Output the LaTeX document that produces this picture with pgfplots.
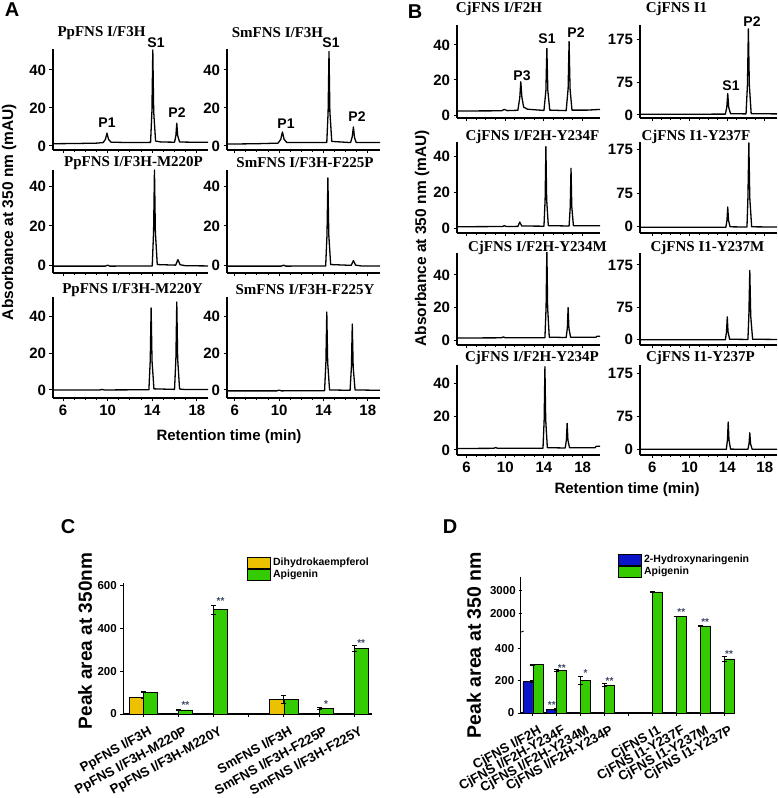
\documentclass[border=0pt]{standalone}
\usepackage{pgfplots}
\pgfplotsset{compat=1.18}
\usepackage{fontspec}
\setmainfont{Liberation Sans}
\newfontfamily\serifb{Liberation Serif}
\newcommand{\fs}[1]{\fontsize{#1}{#1}\selectfont}
\definecolor{cyellow}{RGB}{236,194,0}
\definecolor{cgreen}{RGB}{52,204,0}
\definecolor{cblue}{RGB}{10,20,200}
\definecolor{cast}{RGB}{60,70,100}
\pgfplotsset{
 chrom/.style={scale only axis, anchor=south west, axis lines=left,
   axis line style={-, line width=1.4pt},
   tick align=outside, major tick length=3.5pt, minor tick length=2pt,
   tick style={black, line width=1pt},
   xtick={6,10,14,18}, minor x tick num=3,
   tick label style={font=\fs{15}\bfseries},
   /pgf/number format/assume math mode=true,
   every axis plot post/.append style={black, line width=1.3pt, mark=none, line join=round}},
 nolab/.style={xticklabels={{},{},{},{}}},
 bars/.style={scale only axis, anchor=south west, axis lines=left,
   axis line style={-, line width=1.2pt},
   tick align=outside, major tick length=3pt, tick style={black, line width=0.9pt},
   /pgf/number format/assume math mode=true, /pgf/number format/1000 sep={},
   scaled y ticks=false,
   y tick label style={font=\fs{11.5}\bfseries},
   x tick label style={xshift=5pt, yshift=-7pt, rotate=29, anchor=north east, font=\fs{13.2}\bfseries, inner sep=1pt},
   legend image code/.code={\draw[#1, line width=0.7pt] (0pt,-5.5pt) rectangle (23pt,5.5pt);},
   legend cell align=left},
 ebar/.style={error bars/.cd, y dir=both, y explicit,
   error bar style={line width=0.8pt, black},
   error mark options={rotate=90, mark size=2.5pt, line width=0.8pt, black}},
 ast/.style={draw=none, mark=none, forget plot, nodes near coords, point meta=explicit symbolic,
   nodes near coords align={center},
   every node near coord/.append style={font=\fs{10}\bfseries, text=cast, inner sep=0pt}}
}
\begin{document}
\begin{tikzpicture}
\useasboundingbox (0,0) rectangle (778pt,798pt);
% ================= Panel A =================
\begin{axis}[chrom, nolab, at={(53pt,648pt)}, width=155pt, height=101pt, xmin=5.1, xmax=19.0, ymin=-2.1, ymax=51, ytick={0,20,40}]
\addplot coordinates {(5.1,1.2) (7,1.3) (9,1.5) (9.6,1.8) (9.8,3.5) (9.94,6.8) (10.08,3.5) (10.3,2.0) (12,1.8) (13.85,1.9) (13.97,18) (14.05,50.5) (14.13,18) (14.3,2.6) (14.8,2.1) (16.0,2.0) (16.12,5.5) (16.2,12) (16.28,5.5) (16.45,2.1) (17.5,2.0) (19,2.0)};
\end{axis}
\begin{axis}[chrom, nolab, at={(227pt,648pt)}, width=153pt, height=101pt, xmin=5.3, xmax=19.1, ymin=-2.1, ymax=51, ytick={0,20,40}]
\addplot coordinates {(5.3,1.0) (8,1.2) (9.9,1.5) (10.15,3.5) (10.3,7.4) (10.45,3.5) (10.7,1.8) (14.3,1.8) (14.42,18) (14.5,49.7) (14.58,18) (14.75,2.4) (16.45,1.8) (16.6,5) (16.7,10) (16.8,4.5) (16.95,1.8) (19.1,1.8)};
\end{axis}
\begin{axis}[chrom, nolab, at={(53pt,525pt)}, width=155pt, height=103pt, xmin=5.1, xmax=19.0, ymin=-4, ymax=48.5, ytick={0,20,40}]
\addplot coordinates {(5.1,-0.5) (9.8,-0.5) (10,0) (10.2,-0.5) (14.0,-0.4) (14.12,17) (14.2,48.5) (14.28,17) (14.45,0.3) (16.1,0) (16.3,2.8) (16.5,0.2) (17,-0.3) (19,-0.4)};
\end{axis}
\begin{axis}[chrom, nolab, at={(227pt,525pt)}, width=153pt, height=103pt, xmin=5.3, xmax=19.1, ymin=-4, ymax=48.5, ytick={0,20,40}]
\addplot coordinates {(5.3,-0.5) (10.2,-0.5) (10.4,0) (10.6,-0.5) (14.2,-0.4) (14.32,15.5) (14.4,44.5) (14.48,15.5) (14.65,0.3) (16.5,-0.1) (16.7,2.3) (16.9,0) (17.4,-0.4) (19.1,-0.4)};
\end{axis}
\begin{axis}[chrom, at={(53pt,400pt)}, width=155pt, height=101pt, xmin=5.1, xmax=19.0, ymin=-4.4, ymax=50.8, ytick={0,20,40}]
\addplot coordinates {(5.1,0) (9.3,0) (9.5,0.3) (9.7,0) (13.7,0.1) (13.82,16) (13.9,44.8) (13.98,16) (14.15,0.6) (16.0,0.3) (16.12,17) (16.2,48) (16.28,17) (16.45,0.5) (17,0.2) (19,0.2)};
\end{axis}
\begin{axis}[chrom, at={(227pt,400pt)}, width=153pt, height=101pt, xmin=5.3, xmax=19.1, ymin=-4.4, ymax=50.8, ytick={0,20,40}]
\addplot coordinates {(5.3,-0.5) (9.8,-0.5) (10,-0.1) (10.2,-0.5) (14.1,-0.4) (14.22,15) (14.3,42.6) (14.38,15) (14.55,0) (16.4,-0.2) (16.52,12.5) (16.6,36) (16.68,12.5) (16.85,0) (19.1,-0.2)};
\end{axis}
% ================= Panel B =================
\begin{axis}[chrom, nolab, at={(457pt,680pt)}, width=143pt, height=93pt, xmin=5, xmax=19.8, ymin=-1.7, ymax=51.4, ytick={0,20,40}]
\addplot coordinates {(5,2.3) (9.6,2.4) (9.9,3.2) (10.2,2.5) (11.3,2.7) (11.5,10) (11.6,19) (11.72,10) (11.9,4.5) (12.3,3.3) (14.0,2.6) (14.2,14) (14.3,38) (14.4,14) (14.6,2.8) (16.3,2.5) (16.5,15) (16.6,42) (16.7,15) (16.9,2.8) (18.5,2.8) (19.8,3.2)};
\end{axis}
\begin{axis}[chrom, nolab, at={(640pt,680pt)}, width=137pt, height=93pt, xmin=4.7, xmax=19.3, ymin=-7, ymax=209, ytick={0,75,175}]
\addplot coordinates {(4.7,1.5) (10,1.8) (13.8,2) (13.95,18) (14.05,50) (14.15,18) (14.35,3) (16.0,2.5) (16.15,70) (16.25,200) (16.35,70) (16.55,3) (19.3,2.5)};
\end{axis}
\begin{axis}[chrom, nolab, at={(457pt,565pt)}, width=143pt, height=91pt, xmin=5, xmax=19.8, ymin=-2.6, ymax=48.2, ytick={0,20,40}]
\addplot coordinates {(5,0.9) (9.7,1) (9.9,1.5) (10.1,1) (11.3,1.1) (11.5,3.5) (11.7,1.3) (14.0,1.2) (14.12,16) (14.2,45.6) (14.28,16) (14.45,1.5) (16.6,1.3) (16.72,12) (16.8,33.5) (16.88,12) (17.05,1.5) (19.8,1.4)};
\end{axis}
\begin{axis}[chrom, nolab, at={(640pt,565pt)}, width=137pt, height=91pt, xmin=4.7, xmax=19.3, ymin=-14, ymax=192, ytick={0,75,175}]
\addplot coordinates {(4.7,-1) (13.85,-1) (13.97,15) (14.05,45) (14.13,15) (14.3,0) (16.1,-0.5) (16.2,65) (16.3,190) (16.4,65) (16.6,0) (19.3,-0.5)};
\end{axis}
\begin{axis}[chrom, nolab, at={(457pt,453pt)}, width=143pt, height=92pt, xmin=5, xmax=19.8, ymin=-3, ymax=53.5, ytick={0,20,40}]
\addplot coordinates {(5,1.3) (9.6,1.4) (9.8,2) (10,1.4) (14.1,1.5) (14.22,20) (14.3,56) (14.38,20) (14.55,1.8) (16.3,1.6) (16.42,7.5) (16.5,20) (16.58,7.5) (16.75,1.8) (19.4,1.8) (19.5,2.4) (19.8,2.4)};
\end{axis}
\begin{axis}[chrom, nolab, at={(640pt,453pt)}, width=137pt, height=92pt, xmin=4.7, xmax=19.3, ymin=-13, ymax=203, ytick={0,75,175}]
\addplot coordinates {(4.7,-0.5) (13.8,-0.5) (13.92,18) (14.0,53) (14.08,18) (14.25,0.5) (16.2,0) (16.3,55) (16.4,162) (16.5,55) (16.7,0.5) (19.3,0)};
\end{axis}
\begin{axis}[chrom, at={(457pt,343pt)}, width=143pt, height=90pt, xmin=5, xmax=19.8, ymin=-3, ymax=51, ytick={0,20,40}]
\addplot coordinates {(5,0.9) (8.8,1) (9.0,1.5) (9.2,1) (13.9,1.1) (14.02,18) (14.1,50) (14.18,18) (14.35,1.4) (16.2,1.2) (16.32,6) (16.4,16) (16.48,6) (16.65,1.3) (19.3,1.4) (19.4,2.2) (19.8,2.2)};
\end{axis}
\begin{axis}[chrom, at={(640pt,343pt)}, width=137pt, height=90pt, xmin=4.7, xmax=19.3, ymin=-13, ymax=194, ytick={0,75,175}]
\addplot coordinates {(4.7,0) (13.9,0) (14.02,22) (14.1,63) (14.18,22) (14.35,0.5) (16.2,0.2) (16.32,13) (16.4,38) (16.48,13) (16.65,0.3) (19.3,0.2)};
\end{axis}
% ================= Panel C =================
\begin{axis}[bars, at={(123.3pt,84pt)}, width=248.4pt, height=131pt,
  xmin=-0.57, xmax=6.5, ymin=0, ymax=610, ytick={0,200,400,600},
  xtick={0,...,6}, xticklabels={PpFNS I/F3H, PpFNS I/F3H-M220P, PpFNS I/F3H-M220Y, , SmFNS I/F3H, SmFNS I/F3H-F225P, SmFNS I/F3H-F225Y},
  legend style={at={(0.498,1.2)}, anchor=north west, draw=none, fill=none, inner sep=0pt, outer sep=0pt, row sep=0pt, column sep=2pt, font=\fs{10.5}\bfseries, nodes={inner sep=0.4pt}}]
\addlegendimage{fill=cyellow, draw=black}
\addlegendentry{Dihydrokaempferol}
\addlegendimage{fill=cgreen, draw=black}
\addlegendentry{Apigenin}
\addplot[ybar, bar width=0.4, bar shift=-0.2, fill=cyellow, draw=black, line width=0.7pt, forget plot, ebar] coordinates {(0,76) +- (0,3) (4,68) +- (0,19)};
\addplot[ybar, bar width=0.4, bar shift=0.2, fill=cgreen, draw=black, line width=0.7pt, forget plot, ebar] coordinates {(0,102) +- (0,2) (1,19) +- (0,1) (2,485) +- (0,22) (4,68) +- (0,19) (5,26) +- (0,3) (6,306) +- (0,14)};
\addplot[ast] coordinates {(1.2,42) [**] (2.2,527) [**] (5.2,47) [*] (6.2,331) [**]};
\end{axis}
% ================= Panel D =================
\begin{axis}[bars, at={(520.7pt,85pt)}, width=214.3pt, height=82pt,
  xmin=-0.51, xmax=8.46, ymin=0, ymax=510, ytick={0,200,400},
  xtick={0,...,8}, xticklabels={CjFNS I/F2H, CjFNS I/F2H-Y234F, CjFNS I/F2H-Y234M, CjFNS I/F2H-Y234P, , CjFNS I1, CjFNS I1-Y237F, CjFNS I1-Y237M, CjFNS I1-Y237P},
  legend style={at={(0.454,1.94)}, anchor=north west, draw=none, fill=none, inner sep=0pt, outer sep=0pt, row sep=0pt, column sep=2pt, font=\fs{10.5}\bfseries, nodes={inner sep=0.4pt}}]
\addlegendimage{fill=cblue, draw=black}
\addlegendentry{2-Hydroxynaringenin}
\addlegendimage{fill=cgreen, draw=black}
\addlegendentry{Apigenin}
\addplot[ybar, bar width=0.42, bar shift=-0.21, fill=cblue, draw=black, line width=0.7pt, forget plot, ebar] coordinates {(0,194) +- (0,6) (1,23) +- (0,4)};
\addplot[ybar, bar width=0.42, bar shift=0.21, fill=cgreen, draw=black, line width=0.7pt, forget plot, ebar] coordinates {(0,300) +- (0,4) (1,264) +- (0,5) (2,204) +- (0,24) (3,175) +- (0,11) (5,2930) +- (0,25) (6,1860) +- (0,15) (7,1450) +- (0,12) (8,336) +- (0,15)};
\addplot[ast] coordinates {(0.79,48) [**] (1.21,282) [**] (2.21,246) [*] (3.21,200) [**] (8.21,365) [**]};
\draw[line width=0.8pt] (rel axis cs:0,1) ++(-3pt,-2.5pt) -- ++(6pt,2.5pt);
\draw[line width=0.8pt] (rel axis cs:0,1) ++(-3pt,0.5pt) -- ++(6pt,2.5pt);
\end{axis}
\begin{axis}[bars, at={(520.7pt,164pt)}, width=214.3pt, height=57pt,
  xmin=-0.51, xmax=8.46, ymin=1100, ymax=3580, ytick={2000,3000},
  axis x line=none, axis y line=left, y axis line style={-}, axis line style={-}]
\addplot[ybar, bar width=0.42, bar shift=0.21, fill=cgreen, draw=black, line width=0.7pt, forget plot, ebar] coordinates {(5,2930) +- (0,25) (6,1860) +- (0,15) (7,1450) +- (0,12)};
\addplot[ast] coordinates {(6.21,2043) [**] (7.21,1623) [**]};
\end{axis}
% ================= Text =================
\node[font=\fs{20}\bfseries] at (12pt,788pt) {A};
\node[font=\fs{20}\bfseries] at (415pt,786pt) {B};
\node[font=\fs{20}\bfseries] at (68pt,271pt) {C};
\node[font=\fs{20}\bfseries] at (450pt,271pt) {D};
\node[font=\fs{15.5}\bfseries, rotate=90] at (9pt,586pt) {Absorbance at 350 nm (mAU)};
\node[font=\fs{15.5}\bfseries, rotate=90] at (422pt,559.5pt) {Absorbance at 350 nm (mAU)};
\node[font=\fs{15}\bfseries] at (229pt,361pt) {Retention time (min)};
\node[font=\fs{15}\bfseries] at (627pt,308pt) {Retention time (min)};
\node[font=\fs{19}\bfseries, rotate=90] at (85pt,157pt) {Peak area at 350nm};
\node[font=\fs{19.5}\bfseries, rotate=90] at (474pt,153pt) {Peak area at 350 nm};
\begin{scope}[every node/.style={font=\serifb\bfseries\fs{15}}]
\node at (101.5pt,765pt) {PpFNS I/F3H};
\node at (277.5pt,765pt) {SmFNS I/F3H};
\node at (133.5pt,635pt) {PpFNS I/F3H-M220P};
\node at (305pt,635pt) {SmFNS I/F3H-F225P};
\node at (132.5pt,508pt) {PpFNS I/F3H-M220Y};
\node at (305pt,508pt) {SmFNS I/F3H-F225Y};
\node at (499pt,789pt) {CjFNS I/F2H};
\node at (676.5pt,789pt) {CjFNS I1};
\node at (532.5pt,661pt) {CjFNS I/F2H-Y234F};
\node at (696pt,661pt) {CjFNS I1-Y237F};
\node at (537.5pt,550pt) {CjFNS I/F2H-Y234M};
\node at (707.5pt,550pt) {CjFNS I1-Y237M};
\node at (532pt,440pt) {CjFNS I/F2H-Y234P};
\node at (700.5pt,440pt) {CjFNS I1-Y237P};
\end{scope}
\begin{scope}[every node/.style={font=\bfseries\fs{14}}]
\node at (107pt,675pt) {P1};
\node at (156pt,755pt) {S1};
\node at (177pt,685pt) {P2};
\node at (286pt,674pt) {P1};
\node at (331pt,755pt) {S1};
\node at (357pt,681pt) {P2};
\node at (522pt,722pt) {P3};
\node at (547pt,759pt) {S1};
\node at (576pt,765pt) {P2};
\node at (731pt,712pt) {S1};
\node at (752pt,776pt) {P2};
\end{scope}
\end{tikzpicture}
\end{document}
